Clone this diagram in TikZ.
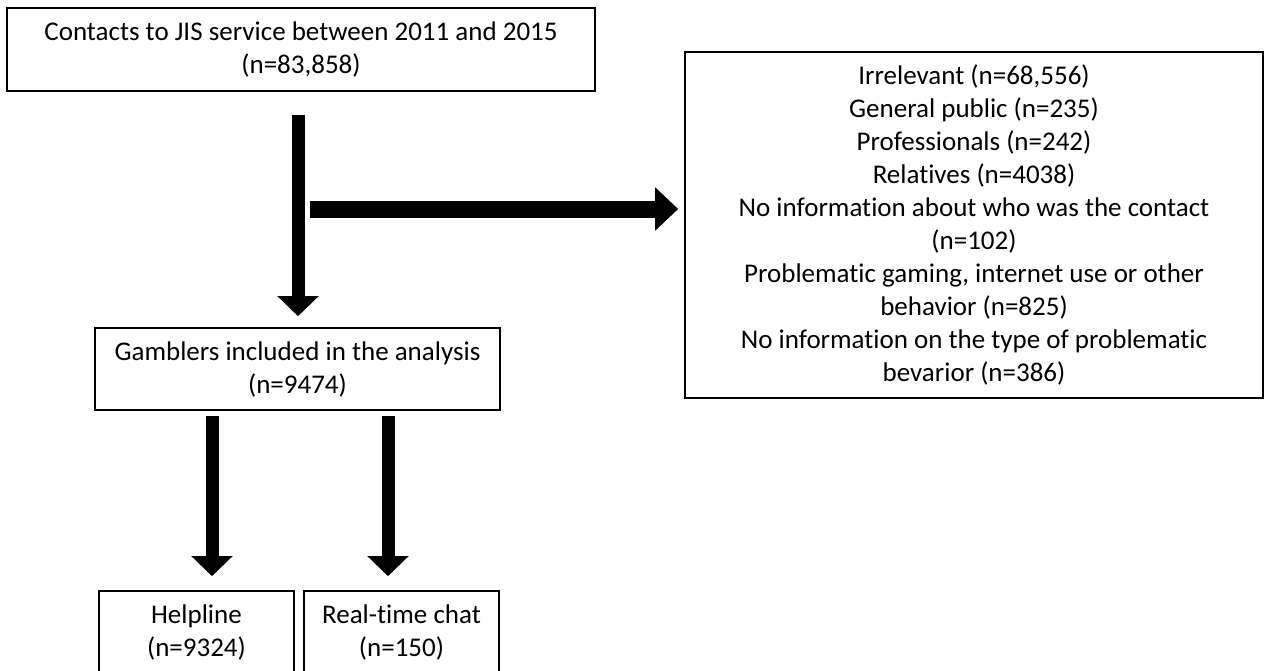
\documentclass[tikz,border=0pt]{standalone}
\usepackage{fontspec}
\setmainfont{Carlito}[Ligatures={NoCommon,NoContextual},RawFeature={-calt}]
\usetikzlibrary{arrows.meta}
\tikzset{
  box/.style={draw=black, line width=1.6pt, align=center, inner sep=0pt,
    font=\fontsize{27}{33}\selectfont},
  downarrow/.style={line width=13pt, -{Triangle[width=40pt,length=20pt]}},
  sidearrow/.style={line width=17pt, -{Triangle[width=42pt,length=23pt]}}
}
\begin{document}
\begin{tikzpicture}[x=1pt,y=-1pt]
\useasboundingbox (0,0) rectangle (1267,670);
\node[box, minimum width=588pt, minimum height=83pt] (contacts) at (301,49.5)
  {Contacts to JIS service between 2011 and 2015\\(n=83,858)};
\node[box, minimum width=578pt, minimum height=346pt] (excluded) at (974,225)
  {Irrelevant (n=68,556)\\General public (n=235)\\Professionals (n=242)\\Relatives (n=4038)\\
   No information about who was the contact\\(n=102)\\
   Problematic gaming, internet use or other\\behavior (n=825)\\
   No information on the type of problematic\\bevarior (n=386)};
\node[box, minimum width=405pt, minimum height=82pt] (gamblers) at (297.5,369)
  {Gamblers included in the analysis\\(n=9474)};
\node[box, minimum width=195pt, minimum height=82pt] (helpline) at (196.5,632)
  {Helpline\\(n=9324)};
\node[box, minimum width=195pt, minimum height=82pt] (chat) at (401.5,632)
  {Real-time chat\\(n=150)};
\coordinate (split) at (310,209);
% arrows
\draw[downarrow, shorten <=23pt, shorten >=11pt] ([xshift=0.5pt]contacts.south -| gamblers.north) -- ([xshift=0.5pt]gamblers.north);
\draw[sidearrow, shorten >=6pt] (split) -- (split -| excluded.west);
\draw[downarrow, shorten <=5pt, shorten >=14pt] ([xshift=15.5pt]helpline.north |- gamblers.south) -- ([xshift=15.5pt]helpline.north);
\draw[downarrow, shorten <=5pt, shorten >=14pt] ([xshift=-13.5pt]chat.north |- gamblers.south) -- ([xshift=-13.5pt]chat.north);
\end{tikzpicture}
\end{document}
